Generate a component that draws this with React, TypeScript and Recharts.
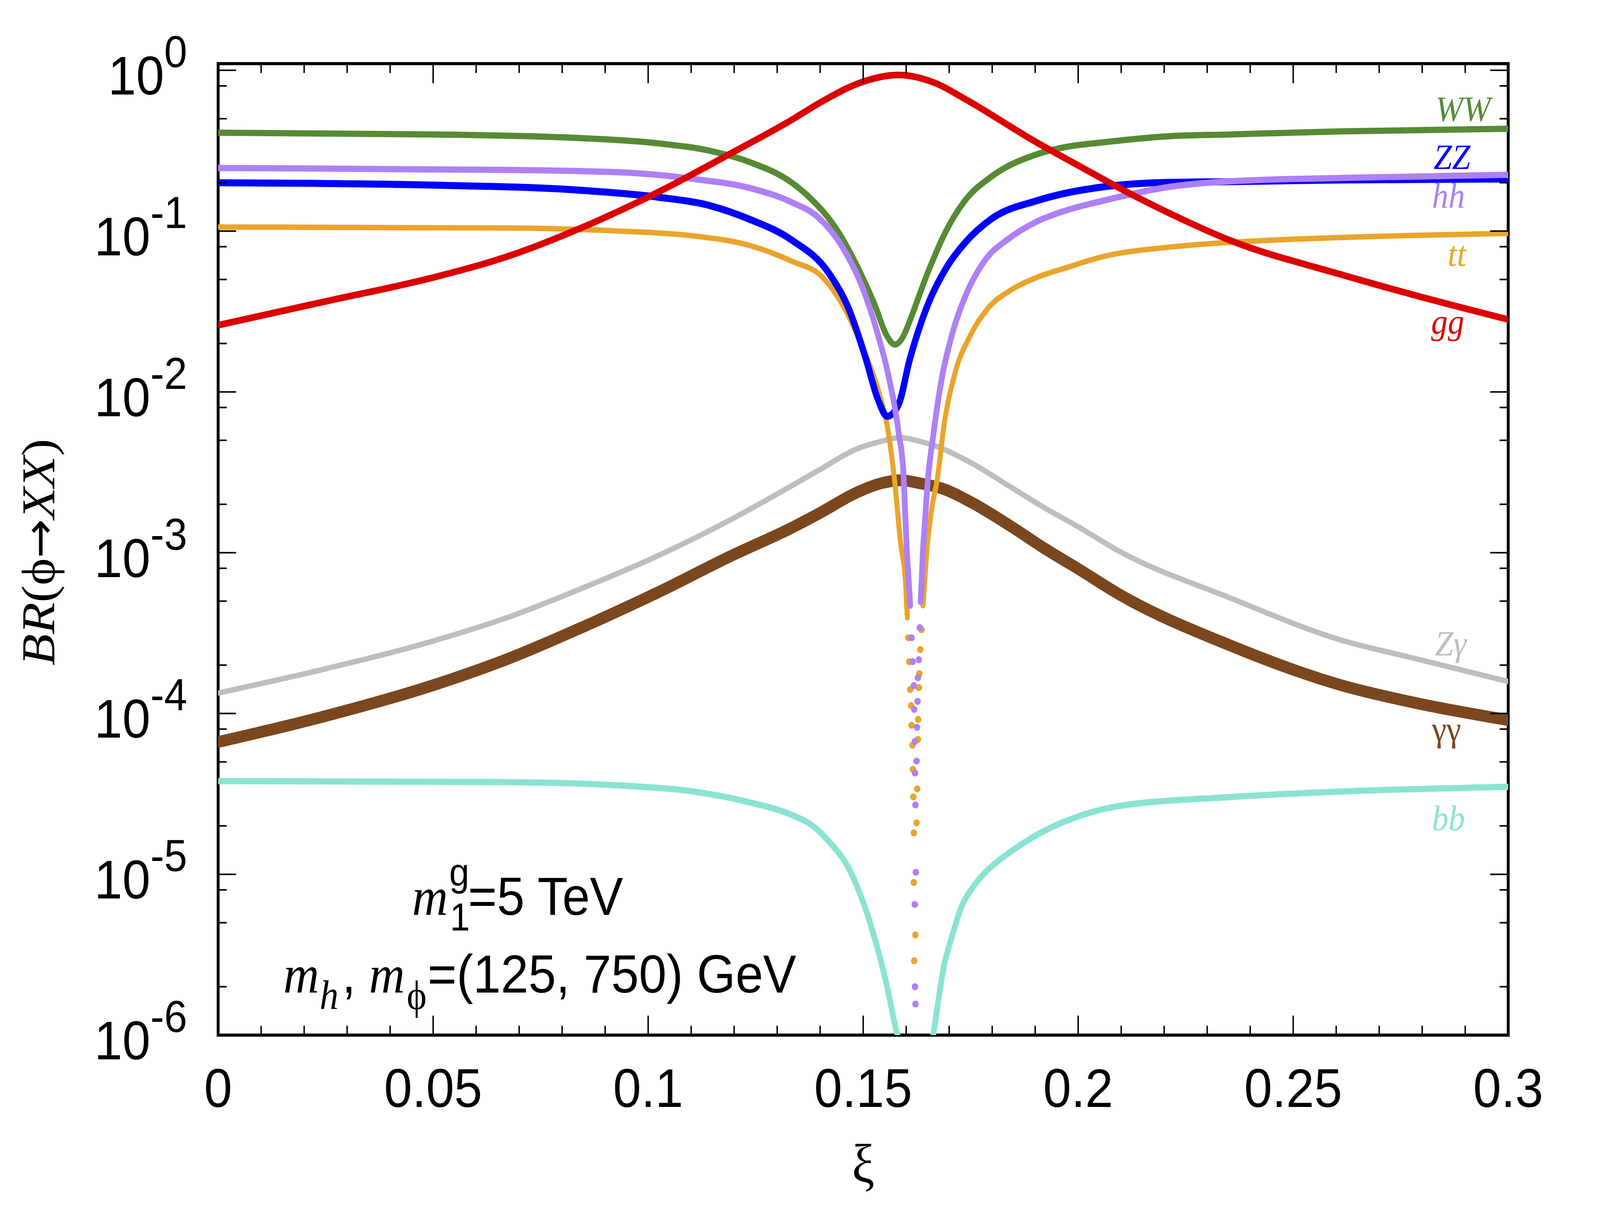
import React from 'react';
import { LineChart, Line, XAxis, YAxis, ReferenceArea } from 'recharts';

type Pt = [number, number];

const xTicks = [0, 0.05, 0.1, 0.15, 0.2, 0.25, 0.3];
const xTickLabels = ['0', '0.05', '0.1', '0.15', '0.2', '0.25', '0.3'];
const xMinorTicks = [
  0.01, 0.02, 0.03, 0.04, 0.06, 0.07, 0.08, 0.09, 0.11, 0.12, 0.13, 0.14,
  0.16, 0.17, 0.18, 0.19, 0.21, 0.22, 0.23, 0.24, 0.26, 0.27, 0.28, 0.29,
];
const yTicks = [1e-6, 1e-5, 1e-4, 1e-3, 1e-2, 1e-1, 1];
const yTickExponents = ['-6', '-5', '-4', '-3', '-2', '-1', '0'];
const yMinorTicks = [
  2e-6, 5e-6, 8e-6, 2e-5, 5e-5, 8e-5, 2e-4, 5e-4, 8e-4,
  2e-3, 5e-3, 8e-3, 2e-2, 5e-2, 8e-2, 0.2, 0.5, 0.8,
];

// values (xi, BR)
const wwPts: Pt[] = [
  [0, 0.409], [0.0507, 0.399], [0.0849, 0.378], [0.102, 0.352], [0.1148, 0.314],
  [0.1234, 0.27], [0.1334, 0.2], [0.137, 0.167], [0.1443, 0.098], [0.149, 0.0575],
  [0.1529, 0.0337], [0.1553, 0.0229], [0.1574, 0.0197], [0.1596, 0.0229], [0.1608, 0.0275],
  [0.165, 0.055], [0.1693, 0.1005], [0.1736, 0.154], [0.18, 0.22], [0.1902, 0.299],
  [0.197, 0.333], [0.2056, 0.356], [0.221, 0.389], [0.2352, 0.399], [0.2608, 0.417],
  [0.3, 0.433],
];

const zzPts: Pt[] = [
  [0, 0.2], [0.0507, 0.193], [0.0849, 0.179], [0.102, 0.163], [0.1148, 0.143],
  [0.1234, 0.119], [0.1334, 0.0879], [0.1419, 0.0553], [0.1467, 0.0326], [0.1505, 0.0165],
  [0.1534, 0.00904], [0.1556, 0.00705], [0.1582, 0.0083], [0.1608, 0.0158], [0.165, 0.0347],
  [0.1693, 0.0589], [0.1736, 0.0841], [0.18, 0.12], [0.1902, 0.154], [0.197, 0.172],
  [0.2056, 0.188], [0.221, 0.201], [0.2352, 0.203], [0.2608, 0.208], [0.3, 0.211],
];

const hhLeft: Pt[] = [
  [0, 0.247], [0.0678, 0.24], [0.0934, 0.232], [0.1106, 0.211], [0.1234, 0.186],
  [0.1334, 0.151], [0.1395, 0.122], [0.1452, 0.0794], [0.15, 0.0434], [0.1534, 0.0228],
  [0.1558, 0.0129], [0.1582, 0.00569], [0.1594, 0.003], [0.15965, 0.00209], [0.1603, 8.75e-4],
  [0.1606, 6.6e-4], [0.16093, 4.68e-4],
];
const hhRight: Pt[] = [
  [0.16338, 4.95e-4], [0.16359, 6.6e-4], [0.16391, 1.04e-3], [0.16429, 0.00146], [0.165, 0.00275],
  [0.1663, 0.00537], [0.168, 0.011], [0.1706, 0.0224], [0.1736, 0.0385], [0.1778, 0.063],
  [0.1842, 0.0912], [0.1902, 0.114], [0.197, 0.134], [0.2056, 0.154], [0.221, 0.188],
  [0.2352, 0.204], [0.2608, 0.214], [0.3, 0.224],
];
const hhDots: Pt[] = [
  [0.16125, 2.96e-4], [0.1615, 2.1e-4], [0.16178, 1.49e-4], [0.16188, 1.06e-4], [0.16199, 6.7e-5],
  [0.16205, 4.27e-5], [0.16215, 2.7e-5], [0.16225, 1.03e-5], [0.16199, 6.5e-6], [0.16205, 2.0e-6],
  [0.16215, 1.56e-6],
  [0.16316, 3.42e-4], [0.16295, 2.16e-4], [0.16273, 1.67e-4], [0.16263, 1.19e-4], [0.16252, 8.2e-5],
  [0.16241, 5.06e-5],
];

const ttLeft: Pt[] = [
  [0, 0.106], [0.0678, 0.1045], [0.0934, 0.1], [0.1106, 0.0933], [0.1234, 0.0817],
  [0.1334, 0.065], [0.1405, 0.0518], [0.1452, 0.0348], [0.15, 0.01845], [0.1534, 0.0105],
  [0.1558, 0.00569], [0.1573, 0.00282], [0.1587, 0.00115], [0.15986, 6.6e-4], [0.16008, 4.95e-4],
  [0.16028, 3.94e-4],
];
const ttRight: Pt[] = [
  [0.16391, 4.68e-4], [0.16429, 6.6e-4], [0.16482, 1.04e-3], [0.1653, 1.38e-3], [0.16589, 0.00184],
  [0.1672, 0.00284], [0.1689, 0.00646], [0.1714, 0.0132], [0.1749, 0.0224], [0.1791, 0.0333],
  [0.1842, 0.0427], [0.1902, 0.0513], [0.197, 0.0589], [0.2056, 0.0692], [0.221, 0.0794],
  [0.2352, 0.0851], [0.2608, 0.0912], [0.3, 0.0968],
];
const ttDots: Pt[] = [
  [0.1605, 2.96e-4], [0.16071, 2.1e-4], [0.16093, 1.41e-4], [0.16114, 1.12e-4], [0.16125, 8.45e-5],
  [0.16146, 6.35e-5], [0.16156, 4.5e-5], [0.16167, 3.03e-5], [0.16178, 1.81e-5], [0.16178, 8.9e-6],
  [0.16215, 4.2e-6], [0.16188, 2.9e-6],
  [0.16359, 3.32e-4], [0.16327, 2.5e-4], [0.16305, 1.77e-4], [0.16295, 1.45e-4], [0.16279, 9.2e-5],
  [0.16273, 6.9e-5], [0.16257, 3.4e-5], [0.16241, 2.09e-5],
];

const ggPts: Pt[] = [
  [0, 0.026], [0.0251, 0.0366], [0.0507, 0.052], [0.0678, 0.0703], [0.0849, 0.106],
  [0.102, 0.173], [0.1191, 0.303], [0.1334, 0.492], [0.14, 0.63], [0.15, 0.85],
  [0.158, 0.935], [0.1669, 0.83], [0.1736, 0.665], [0.1898, 0.363], [0.2013, 0.245],
  [0.2098, 0.184], [0.221, 0.13], [0.2352, 0.0879], [0.2608, 0.054], [0.278, 0.0401],
  [0.3, 0.0282],
];

const zgPts: Pt[] = [
  [0, 1.34e-4], [0.0251, 1.9e-4], [0.0507, 2.86e-4], [0.0678, 4.0e-4], [0.0849, 6.05e-4],
  [0.102, 9.5e-4], [0.1191, 1.6e-3], [0.1334, 2.61e-3], [0.1395, 3.24e-3], [0.149, 4.47e-3],
  [0.1539, 4.9e-3], [0.1586, 5.2e-3], [0.1635, 4.9e-3], [0.1672, 4.57e-3], [0.1757, 3.55e-3],
  [0.1842, 2.57e-3], [0.1925, 1.88e-3], [0.2, 1.45e-3], [0.2096, 1.02e-3], [0.2352, 5.25e-4],
  [0.2608, 2.88e-4], [0.278, 2.21e-4], [0.3, 1.58e-4],
];

const aaPts: Pt[] = [
  [0, 6.65e-5], [0.0251, 9.66e-5], [0.0507, 1.52e-4], [0.0678, 2.21e-4], [0.0849, 3.46e-4],
  [0.102, 5.62e-4], [0.1191, 9.5e-4], [0.1334, 1.43e-3], [0.1395, 1.74e-3], [0.149, 2.4e-3],
  [0.1539, 2.69e-3], [0.1587, 2.82e-3], [0.1635, 2.69e-3], [0.1683, 2.51e-3], [0.1754, 2.04e-3],
  [0.184, 1.48e-3], [0.1925, 1.05e-3], [0.2, 7.94e-4], [0.2096, 5.5e-4], [0.2352, 2.66e-4],
  [0.2608, 1.51e-4], [0.278, 1.17e-4], [0.3, 9.1e-5],
];

const bbLeft: Pt[] = [
  [0, 3.8e-5], [0.0678, 3.74e-5], [0.0934, 3.57e-5], [0.1106, 3.27e-5], [0.1234, 2.81e-5],
  [0.1334, 2.34e-5], [0.1383, 2.0e-5], [0.1425, 1.55e-5], [0.1464, 1.12e-5], [0.1518, 4.8e-6],
  [0.1555, 2.04e-6], [0.1576, 1.1e-6], [0.158, 1.0e-6],
];
const bbRight: Pt[] = [
  [0.1663, 1.0e-6], [0.1675, 1.66e-6], [0.1688, 2.7e-6], [0.1705, 3.98e-6], [0.1731, 6.5e-6],
  [0.1755, 8.3e-6], [0.1785, 1.035e-5], [0.1815, 1.216e-5], [0.184, 1.365e-5], [0.1891, 1.68e-5],
  [0.2, 2.29e-5], [0.2096, 2.66e-5], [0.2352, 3.02e-5], [0.2608, 3.27e-5], [0.3, 3.5e-5],
];

const C = {
  ww: '#568b34',
  zz: '#0000ff',
  hh: '#ae80f6',
  tt: '#e9a52b',
  gg: '#dc0000',
  zg: '#bebebe',
  aa: '#7b471e',
  bb: '#8ae3d2',
};

const SANS = "'Liberation Sans', Arial, Helvetica, sans-serif";
const SERIF = "'Liberation Serif', 'Times New Roman', Times, serif";

const CHART_W = 4445;
const CHART_H = 3104;
const MARGIN = { top: 163, right: 255, bottom: 153, left: 156 };
const Y_AXIS_W = 450;
const X_AXIS_H = 300;
const PLOT_W = CHART_W - MARGIN.left - MARGIN.right - Y_AXIS_W;
const PLOT_H = CHART_H - MARGIN.top - MARGIN.bottom - X_AXIS_H;

const rows = (pts: Pt[]) => pts.map(([x, y]) => ({ x, y }));

// drawing order, bottom first
const solidSeries = [
  { id: 'bbL', pts: bbLeft, color: C.bb, w: 16 },
  { id: 'bbR', pts: bbRight, color: C.bb, w: 16 },
  { id: 'zg', pts: zgPts, color: C.zg, w: 14 },
  { id: 'aa', pts: aaPts, color: C.aa, w: 30 },
  { id: 'ttL', pts: ttLeft, color: C.tt, w: 14 },
  { id: 'ttR', pts: ttRight, color: C.tt, w: 14 },
  { id: 'ww', pts: wwPts, color: C.ww, w: 16 },
  { id: 'zz', pts: zzPts, color: C.zz, w: 18 },
  { id: 'hhL', pts: hhLeft, color: C.hh, w: 16 },
  { id: 'hhR', pts: hhRight, color: C.hh, w: 16 },
  { id: 'gg', pts: ggPts, color: C.gg, w: 17 },
];

const dotSeries = [
  { id: 'ttD', pts: ttDots, color: C.tt },
  { id: 'hhD', pts: hhDots, color: C.hh },
];

const curveLabels = [
  { text: 'WW', color: C.ww, x: 4141, y: 310, italic: true },
  { text: 'ZZ', color: C.zz, x: 4085, y: 433, italic: true },
  { text: 'hh', color: C.hh, x: 4070, y: 532, italic: true },
  { text: 'tt', color: C.tt, x: 4073, y: 681, italic: true },
  { text: 'gg', color: C.gg, x: 4068, y: 855, italic: true },
  { text: 'Zγ', color: C.zg, x: 4074, y: 1679, italic: true },
  { text: 'γγ', color: C.aa, x: 4059, y: 1898, italic: false },
  { text: 'bb', color: C.bb, x: 4070, y: 2126, italic: true },
];

const MAJOR = 50;
const MINOR = 24;

// y ticks: label on the left, inward tick marks on both frame sides
const YTick = (props: any) => {
  const { x, y, payload } = props;
  const idx = yTicks.indexOf(payload.value);
  const len = idx >= 0 ? MAJOR : MINOR;
  return (
    <g>
      <line x1={x} x2={x + len} y1={y} y2={y} stroke="#000" strokeWidth={4} />
      <line x1={x + PLOT_W - len} x2={x + PLOT_W} y1={y} y2={y} stroke="#000" strokeWidth={4} />
      {idx >= 0 && (
        <text x={x - 86} y={y + 62} textAnchor="end" fontFamily={SANS} fontSize={140} fill="#000">
          10<tspan fontSize={115} dy={-70}>{yTickExponents[idx]}</tspan>
        </text>
      )}
    </g>
  );
};

// x ticks: label below, inward tick marks on bottom and top of the frame
const XTick = (props: any) => {
  const { x, y, payload } = props;
  const idx = xTicks.indexOf(payload.value);
  const len = idx >= 0 ? MAJOR : MINOR;
  return (
    <g>
      <line x1={x} x2={x} y1={y} y2={y - len} stroke="#000" strokeWidth={4} />
      <line x1={x} x2={x} y1={y - PLOT_H} y2={y - PLOT_H + len} stroke="#000" strokeWidth={4} />
      {idx >= 0 && (
        <text x={x} y={y + 184} textAnchor="middle" fontFamily={SANS} fontSize={140} fill="#000">
          {xTickLabels[idx]}
        </text>
      )}
    </g>
  );
};

const App: React.FC = () => {
  // the browser may give a narrower viewport than asked for; stretch the
  // fixed-size drawing onto whatever is there so the frame keeps its place
  const vw = typeof window !== 'undefined' ? window.innerWidth : CHART_W;
  const vh = typeof window !== 'undefined' ? window.innerHeight : CHART_H;
  const sx = Math.min(1, vw / CHART_W);
  const sy = Math.min(1, vh / CHART_H);
  const scaled = sx < 1 || sy < 1;

  return (
    <div
      style={{
        position: 'absolute',
        left: 0,
        top: 0,
        width: CHART_W,
        height: CHART_H,
        background: '#fff',
        transform: scaled ? `scale(${sx}, ${sy})` : undefined,
        transformOrigin: '0 0',
      }}
    >
      <LineChart width={CHART_W} height={CHART_H} margin={MARGIN}>
        <XAxis
          xAxisId="x"
          type="number"
          dataKey="x"
          domain={[0, 0.3]}
          allowDataOverflow
          ticks={[...xTicks, ...xMinorTicks]}
          interval={0}
          tick={<XTick />}
          tickLine={false}
          axisLine={false}
          tickSize={0}
          tickMargin={0}
          height={X_AXIS_H}
        />
        <YAxis
          yAxisId="y"
          type="number"
          scale="log"
          domain={[1e-6, 1.1]}
          allowDataOverflow
          ticks={[...yTicks, ...yMinorTicks]}
          interval={0}
          tick={<YTick />}
          tickLine={false}
          axisLine={false}
          tickSize={0}
          tickMargin={0}
          width={Y_AXIS_W}
        />

        {solidSeries.map((s) => (
          <Line
            key={s.id}
            xAxisId="x"
            yAxisId="y"
            data={rows(s.pts)}
            dataKey="y"
            type="monotone"
            stroke={s.color}
            strokeWidth={s.w}
            strokeLinecap="round"
            strokeLinejoin="round"
            dot={false}
            activeDot={false}
            isAnimationActive={false}
          />
        ))}
        {dotSeries.map((s) => (
          <Line
            key={s.id}
            xAxisId="x"
            yAxisId="y"
            data={rows(s.pts)}
            dataKey="y"
            type="linear"
            stroke="none"
            strokeWidth={0}
            dot={{ r: 9, fill: s.color, stroke: 'none', strokeWidth: 0 }}
            activeDot={false}
            isAnimationActive={false}
          />
        ))}

        <ReferenceArea
          xAxisId="x"
          yAxisId="y"
          x1={0}
          x2={0.3}
          y1={1e-6}
          y2={1.1}
          fill="none"
          fillOpacity={0}
          stroke="#000"
          strokeWidth={8}
          ifOverflow="visible"
        />
      </LineChart>

      <svg
        width={CHART_W}
        height={CHART_H}
        style={{ position: 'absolute', left: 0, top: 0, pointerEvents: 'none' }}
      >
        {/* axis titles */}
        <text
          transform="translate(151,1414) rotate(-90)"
          textAnchor="middle"
          fontFamily={SERIF}
          fontSize={132}
          fill="#000"
        >
          <tspan fontStyle="italic">BR</tspan>(ϕ<tspan fontFamily="'DejaVu Sans', sans-serif" fontSize={120}>→</tspan>
          <tspan fontStyle="italic">XX</tspan>)
        </text>
        <text x={2398} y={3027} textAnchor="middle" fontFamily={SERIF} fontSize={140} fill="#000">
          ξ
        </text>

        {/* parameter notes */}
        <text x={1145} y={2343} fontFamily={SERIF} fontStyle="italic" fontSize={138} fill="#000">m</text>
        <text x={1250} y={2383} fontFamily={SANS} fontSize={100} fill="#000">1</text>
        <text x={1248} y={2268} fontFamily={SANS} fontSize={100} fill="#000">g</text>
        <text x={1300} y={2343} fontFamily={SANS} fontSize={138} fill="#000">=5 TeV</text>

        <text x={787} y={2542} fontFamily={SERIF} fontStyle="italic" fontSize={138} fill="#000">m</text>
        <text x={888} y={2584} fontFamily={SERIF} fontStyle="italic" fontSize={105} fill="#000">h</text>
        <text x={950} y={2542} fontFamily={SANS} fontSize={138} fill="#000">,</text>
        <text x={1025} y={2542} fontFamily={SERIF} fontStyle="italic" fontSize={138} fill="#000">m</text>
        <text x={1130} y={2584} fontFamily={SERIF} fontSize={105} fill="#000">ϕ</text>
        <text x={1188} y={2542} fontFamily={SANS} fontSize={138} fill="#000">=(125, 750) GeV</text>

        {/* curve names */}
        {curveLabels.map((l) => (
          <text
            key={l.text}
            x={l.x}
            y={l.y}
            textAnchor="end"
            fontFamily={SERIF}
            fontStyle={l.italic ? 'italic' : 'normal'}
            fontSize={92}
            fill={l.color}
          >
            {l.text}
          </text>
        ))}
      </svg>
    </div>
  );
};

export default App;
